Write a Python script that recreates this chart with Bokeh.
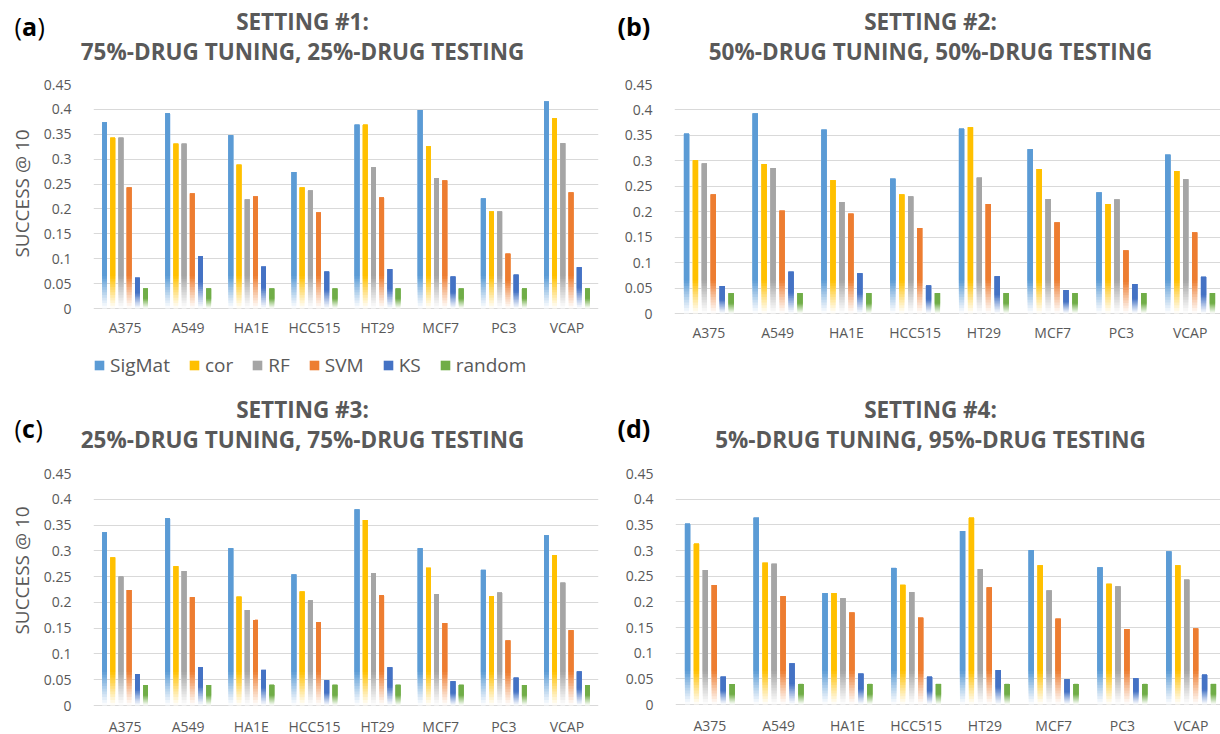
import math
from bokeh.plotting import figure
from bokeh.models import Range1d, FixedTicker, Label, Legend, LegendItem, ColumnDataSource
from bokeh.layouts import column, row
from bokeh.embed import file_html
from bokeh.resources import INLINE

CELL_LINES = ["A375", "A549", "HA1E", "HCC515", "HT29", "MCF7", "PC3", "VCAP"]
METHODS = ["SigMat", "cor", "RF", "SVM", "KS", "random"]
COLORS = ["#5B9BD5", "#FFC000", "#A5A5A5", "#ED7D31", "#4472C4", "#70AD47"]
YTICKS = [0, 0.05, 0.1, 0.15, 0.2, 0.25, 0.3, 0.35, 0.4, 0.45]
YLABELS = ["0", "0.05", "0.1", "0.15", "0.2", "0.25", "0.3", "0.35", "0.4", "0.45"]

# Setting #1: 75%-drug tuning, 25%-drug testing
S1_SIGMAT = [0.374, 0.392, 0.348, 0.274, 0.369, 0.399, 0.221, 0.416]
S1_COR = [0.343, 0.331, 0.289, 0.243, 0.369, 0.326, 0.195, 0.382]
S1_RF = [0.343, 0.331, 0.219, 0.237, 0.284, 0.262, 0.195, 0.332]
S1_SVM = [0.243, 0.231, 0.225, 0.193, 0.223, 0.257, 0.110, 0.233]
S1_KS = [0.062, 0.105, 0.084, 0.074, 0.079, 0.064, 0.068, 0.083]
S1_RANDOM = [0.040, 0.040, 0.040, 0.040, 0.040, 0.040, 0.040, 0.040]

# Setting #2: 50%-drug tuning, 50%-drug testing
S2_SIGMAT = [0.353, 0.393, 0.361, 0.265, 0.363, 0.323, 0.238, 0.312]
S2_COR = [0.301, 0.294, 0.262, 0.234, 0.366, 0.284, 0.215, 0.280]
S2_RF = [0.295, 0.286, 0.219, 0.230, 0.267, 0.225, 0.224, 0.264]
S2_SVM = [0.234, 0.202, 0.196, 0.168, 0.215, 0.179, 0.124, 0.159]
S2_KS = [0.054, 0.082, 0.079, 0.055, 0.073, 0.046, 0.058, 0.072]
S2_RANDOM = [0.040, 0.040, 0.040, 0.040, 0.040, 0.040, 0.040, 0.040]

# Setting #3: 25%-drug tuning, 75%-drug testing
S3_SIGMAT = [0.336, 0.363, 0.305, 0.254, 0.380, 0.305, 0.263, 0.330]
S3_COR = [0.287, 0.270, 0.211, 0.221, 0.360, 0.267, 0.212, 0.292]
S3_RF = [0.250, 0.261, 0.185, 0.204, 0.257, 0.216, 0.219, 0.238]
S3_SVM = [0.224, 0.210, 0.166, 0.162, 0.214, 0.160, 0.126, 0.146]
S3_KS = [0.061, 0.074, 0.069, 0.049, 0.074, 0.047, 0.054, 0.066]
S3_RANDOM = [0.040, 0.040, 0.040, 0.040, 0.040, 0.040, 0.040, 0.040]

# Setting #4: 5%-drug tuning, 95%-drug testing
S4_SIGMAT = [0.352, 0.364, 0.217, 0.266, 0.338, 0.301, 0.267, 0.298]
S4_COR = [0.313, 0.276, 0.217, 0.233, 0.364, 0.271, 0.235, 0.271]
S4_RF = [0.262, 0.274, 0.207, 0.219, 0.264, 0.222, 0.230, 0.243]
S4_SVM = [0.233, 0.211, 0.179, 0.169, 0.228, 0.167, 0.147, 0.148]
S4_KS = [0.054, 0.080, 0.060, 0.054, 0.067, 0.049, 0.051, 0.058]
S4_RANDOM = [0.040, 0.040, 0.040, 0.040, 0.040, 0.040, 0.040, 0.040]

TITLES = [
    ("SETTING #1:", "75%-DRUG TUNING, 25%-DRUG TESTING"),
    ("SETTING #2:", "50%-DRUG TUNING, 50%-DRUG TESTING"),
    ("SETTING #3:", "25%-DRUG TUNING, 75%-DRUG TESTING"),
    ("SETTING #4:", "5%-DRUG TUNING, 95%-DRUG TESTING"),
]
PANEL_LETTERS = ["a", "b", "c", "d"]
Y_TITLE = "SUCCESS @ 10"

FONT = "Open Sans"
TXT = "#595959"
GRID = "#D9D9D9"
FADE = 0.065
NSL = 12
SPACING = 0.13
BARW = 0.075
GROUPW_R = 68.75
HEAD_H = 70
STRIP_W = 40

# plot-figure geometry in page pixels (figure box + frame box; B = zero line)
GEOM = [
    dict(ox=STRIP_W, oy=70, W=610 - STRIP_W, H=320, L=86, R=598, T=84, B=308, SO=3),
    dict(ox=610, oy=70, W=610, H=320, L=674, R=1220, T=84, B=313, SO=3),
    dict(ox=STRIP_W, oy=460, W=610 - STRIP_W, H=274, L=86, R=598, T=473, B=705, SO=5),
    dict(ox=610, oy=460, W=610, H=274, L=675, R=1220, T=473, B=704, SO=5),
]


def blend(hexc, t):
    rgb = [int(hexc[i:i + 2], 16) for i in (1, 3, 5)]
    return "#%02x%02x%02x" % tuple(int(round(255 + (c - 255) * t)) for c in rgb)


def text_fig(W, H):
    f = figure(width=W, height=H, x_range=Range1d(0, W), y_range=Range1d(H, 0),
               output_backend="svg", toolbar_location=None, title=None,
               x_axis_type=None, y_axis_type=None,
               min_border_left=0, min_border_right=0, min_border_top=0, min_border_bottom=0)
    f.outline_line_color = None
    f.background_fill_color = "white"
    f.border_fill_color = "white"
    return f


def add_label(f, x, y, txt, size, style="normal", color=TXT, align="center", angle=0.0):
    f.add_layout(Label(x=x, y=y, text=txt, text_align=align, text_baseline="middle",
                       text_font=FONT, text_font_size=size, text_font_style=style,
                       text_color=color, angle=angle))


def make_header(idx, letter_split):
    h = text_fig(610, HEAD_H)
    tcx = 302 if idx in (0, 2) else 320
    ty1 = 21 if idx < 2 else 19
    for line, py in zip(TITLES[idx], (ty1, ty1 + 30)):
        add_label(h, tcx, py, line, "22.5px", "bold")
    lx = 14 if idx in (0, 2) else 7
    ly = 25 if idx < 2 else 37
    letter = PANEL_LETTERS[idx]
    if letter_split:
        close_dx = 23 if letter == "a" else 21
        parts = [("(", "normal", 0), (letter, "bold", 7.5), (")", "normal", close_dx)]
    else:
        parts = [("(" + letter + ")", "bold", 0)]
    for txt, style, dx in parts:
        add_label(h, lx + dx, ly, txt, "25px", style, color="black", align="left")
    return h


def make_strip(idx):
    g = GEOM[idx]
    s = text_fig(STRIP_W, g["H"])
    ycy = (193 if idx < 2 else 570) - g["oy"]
    add_label(s, 21, ycy, Y_TITLE, "19px", angle=math.pi / 2)
    return s


def make_plot(idx, series, show_legend):
    g = GEOM[idx]
    fb_px = g["oy"] + g["H"]  # frame reaches the figure bottom; x axis pinned at 0
    x1 = (g["R"] - g["L"]) / (64.0 if g["L"] == 86 else GROUPW_R)
    y0 = -(fb_px - g["B"]) / (g["B"] - g["T"]) * 0.45
    p = figure(width=g["W"], height=g["H"], x_range=Range1d(0, x1), y_range=Range1d(y0, 0.45),
               output_backend="svg", toolbar_location=None, title=None,
               min_border_left=g["L"] - g["ox"], min_border_right=g["ox"] + g["W"] - g["R"],
               min_border_top=g["T"] - g["oy"], min_border_bottom=0)
    p.outline_line_color = None
    p.background_fill_color = "white"
    p.border_fill_color = "white"

    # gradient fade: overlapping slices drawn bottom-up, each reaching the bar top
    fl, fr, fb, ft, fc = [], [], [], [], []
    for i in range(NSL):
        t = ((i + 0.5) / NSL) ** 1.1
        for k, vals in enumerate(series):
            for gi, hv in enumerate(vals):
                f = min(FADE, 0.5 * hv)
                xc = gi + 0.5 + (k - 2.5) * SPACING
                fl.append(xc - BARW / 2)
                fr.append(xc + BARW / 2)
                fb.append(f * i / NSL)
                ft.append(hv)
                fc.append(blend(COLORS[k], t))
    p.quad(left="l", right="r", bottom="b", top="t", fill_color="c", line_color=None,
           source=ColumnDataSource(dict(l=fl, r=fr, b=fb, t=ft, c=fc)))

    solid = []
    for k, vals in enumerate(series):
        xc = [gi + 0.5 + (k - 2.5) * SPACING for gi in range(len(vals))]
        src = ColumnDataSource(dict(l=[x - BARW / 2 for x in xc], r=[x + BARW / 2 for x in xc],
                                    b=[min(FADE, 0.5 * hv) for hv in vals], t=list(vals)))
        solid.append(p.quad(left="l", right="r", bottom="b", top="t", source=src,
                            fill_color=COLORS[k], line_color=None))

    xt = [gi + 0.5 for gi in range(len(CELL_LINES))]
    p.xaxis.ticker = FixedTicker(ticks=xt)
    p.xaxis.major_label_overrides = {x: c for x, c in zip(xt, CELL_LINES)}
    p.xaxis.axis_line_color = None
    p.xaxis.major_tick_line_color = None
    p.xaxis.minor_tick_line_color = None
    p.xaxis.major_label_standoff = g["SO"]
    p.xaxis.major_label_text_font = FONT
    p.xaxis.major_label_text_font_size = "14px"
    p.xaxis.major_label_text_color = TXT
    p.xaxis.fixed_location = 0

    p.yaxis.ticker = FixedTicker(ticks=YTICKS)
    p.yaxis.major_label_overrides = {v: s for v, s in zip(YTICKS, YLABELS)}
    p.yaxis.axis_line_color = None
    p.yaxis.major_tick_line_color = None
    p.yaxis.minor_tick_line_color = None
    p.yaxis.major_label_standoff = 16
    p.yaxis.major_label_text_font = FONT
    p.yaxis.major_label_text_font_size = "14px"
    p.yaxis.major_label_text_color = TXT

    p.xgrid.visible = False
    p.ygrid.ticker = FixedTicker(ticks=YTICKS)
    p.ygrid.grid_line_color = GRID
    p.ygrid.grid_line_width = 1

    if show_legend:
        items = [LegendItem(label=m, renderers=[solid[k]]) for k, m in enumerate(METHODS)]
        lg = Legend(items=items, orientation="horizontal", location=(0, 12),
                    glyph_width=12, glyph_height=12, label_standoff=5, spacing=18,
                    padding=0, margin=0, border_line_color=None, background_fill_alpha=0,
                    label_text_font=FONT, label_text_font_size="19px", label_text_color=TXT)
        p.add_layout(lg)
    return p


pa = make_plot(0, [S1_SIGMAT, S1_COR, S1_RF, S1_SVM, S1_KS, S1_RANDOM], True)
pb = make_plot(1, [S2_SIGMAT, S2_COR, S2_RF, S2_SVM, S2_KS, S2_RANDOM], False)
pc = make_plot(2, [S3_SIGMAT, S3_COR, S3_RF, S3_SVM, S3_KS, S3_RANDOM], False)
pd_ = make_plot(3, [S4_SIGMAT, S4_COR, S4_RF, S4_SVM, S4_KS, S4_RANDOM], False)

top = row(column(row(make_header(0, True)), row(row(make_strip(0)), row(pa))),
          column(row(make_header(1, False)), row(pb)))
bottom = row(column(row(make_header(2, True)), row(row(make_strip(2)), row(pc))),
             column(row(make_header(3, False)), row(pd_)))
layout = column(top, bottom)
open("out.html", "w").write(file_html(layout, INLINE))
